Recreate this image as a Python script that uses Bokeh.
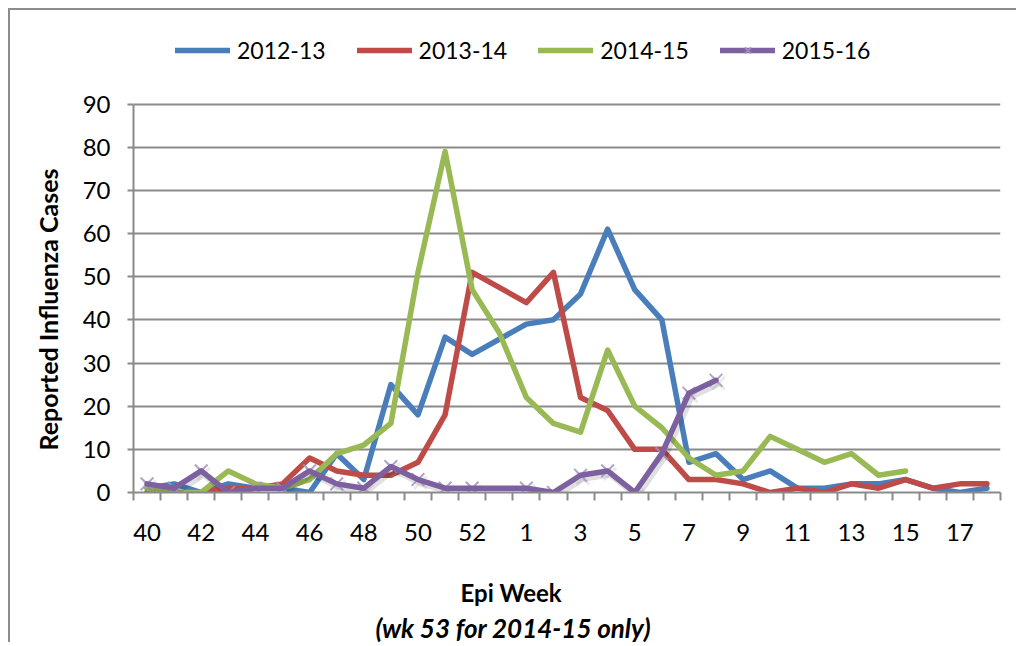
from bokeh.plotting import figure
from bokeh.models import (Range1d, FixedTicker, Legend, LegendItem, Title,
                          ColumnDataSource)
from bokeh.transform import dodge
from bokeh.embed import file_html
from bokeh.resources import INLINE

# ---------------- data ----------------
weeks = ["40", "41", "42", "43", "44", "45", "46", "47", "48", "49", "50",
         "51", "52", "53", "1", "2", "3", "4", "5", "6", "7", "8", "9", "10",
         "11", "12", "13", "14", "15", "16", "17", "18"]
y_ticks = [0, 10, 20, 30, 40, 50, 60, 70, 80, 90]

s2012_13 = [1, 2, 0, 2, 1, 1, 0, 9, 3, 25, 18, 36, 32, None, 39, 40, 46, 61,
            47, 40, 7, 9, 3, 5, 1, 1, 2, 2, 3, 1, 0, 1]
s2013_14 = [0, 0, 0, 1, 1, 2, 8, 5, 4, 4, 7, 18, 51, None, 44, 51, 22, 19,
            10, 10, 3, 3, 2, 0, 1, 0, 2, 1, 3, 1, 2, 2]
s2014_15 = [1, 0, 0, 5, 2, 1, 3, 9, 11, 16, 51, 79, 47, 37, 22, 16, 14, 33,
            20, 15, 8, 4, 5, 13, 10, 7, 9, 4, 5]
s2015_16 = [2, 1, 5, 0, 1, 1, 5, 2, 1, 6, 3, 1, 1, None, 1, 0, 4, 5, 0, 9,
            23, 26]

series_names = ["2012-13", "2013-14", "2014-15", "2015-16"]
series_colors = ["#4A7EBB", "#BE4B48", "#98B954", "#7D60A0"]

FONT = "Lato"
GRID = "#8A8A8A"

# layout: frame spans page y 20..492; value 90 sits at page y 103.5
FRAME_PX = 472.0
PX_PER_90 = 388.5
Y_TOP = 90 * FRAME_PX / PX_PER_90


def src(vals):
    xs = [i for i, v in enumerate(vals) if v is not None]
    ys = [v for v in vals if v is not None]
    return ColumnDataSource(data=dict(x=xs, y=ys))


p = figure(width=1008, height=634, output_backend="svg", toolbar_location=None,
           x_range=Range1d(-0.5, len(weeks) - 0.5), y_range=Range1d(0, Y_TOP),
           min_border_left=123, min_border_right=18, min_border_top=10,
           min_border_bottom=152)
p.outline_line_color = None
p.background_fill_color = "white"
p.border_fill_color = "white"
p.styles = {"margin-left": "8px", "margin-top": "8px",
            "border-left": "2px solid #8C8C8C", "border-top": "2px solid #8C8C8C"}

# y axis
p.yaxis.ticker = FixedTicker(ticks=y_ticks)
p.yaxis.bounds = (y_ticks[0], y_ticks[-1])
p.yaxis.axis_line_color = GRID
p.yaxis.axis_line_width = 2
p.yaxis.major_tick_line_color = GRID
p.yaxis.major_tick_line_width = 2
p.yaxis.major_tick_out = 6
p.yaxis.major_tick_in = 0
p.yaxis.minor_tick_line_color = None
p.yaxis.major_label_text_font = FONT
p.yaxis.major_label_text_font_size = "24px"
p.yaxis.major_label_text_color = "black"
p.yaxis.major_label_standoff = 17

# x axis
p.xaxis.ticker = FixedTicker(ticks=list(range(0, len(weeks), 2)),
                             minor_ticks=[i - 0.5 for i in range(len(weeks) + 1)])
p.xaxis.major_label_overrides = {i: weeks[i] for i in range(0, len(weeks), 2)}
p.xaxis.axis_line_color = GRID
p.xaxis.axis_line_width = 2
p.xaxis.major_tick_line_color = None
p.xaxis.major_tick_out = 0
p.xaxis.major_tick_in = 0
p.xaxis.minor_tick_line_color = GRID
p.xaxis.minor_tick_line_width = 2
p.xaxis.minor_tick_out = 8
p.xaxis.minor_tick_in = 0
p.xaxis.major_label_text_font = FONT
p.xaxis.major_label_text_font_size = "24px"
p.xaxis.major_label_text_color = "black"
p.xaxis.major_label_standoff = 23

p.xgrid.visible = False
p.ygrid.grid_line_color = GRID
p.ygrid.grid_line_width = 2

renderers = []
for vals, color in zip([s2012_13, s2013_14, s2014_15], series_colors[:3]):
    r = p.line("x", "y", source=src(vals), line_color=color, line_width=5.5,
               line_join="round", line_cap="round")
    renderers.append([r])

# 2015-16 with shadow and x markers
ps = src(s2015_16)
p.line(x=dodge("x", 0.09, range=p.x_range), y=dodge("y", -0.7, range=p.y_range),
       source=ps, line_color="black", line_alpha=0.12, line_width=7,
       line_join="round")
p.scatter(x=dodge("x", 0.09, range=p.x_range), y=dodge("y", -0.7, range=p.y_range),
          source=ps, marker="x", size=18, line_color="black", line_alpha=0.08,
          line_width=3)
m = p.scatter("x", "y", source=ps, marker="x", size=18, line_color="#A492C2",
              line_alpha=0.85, line_width=2)
r4 = p.line("x", "y", source=ps, line_color=series_colors[3], line_width=5.5,
            line_join="round", line_cap="round")
renderers.append([r4, m])

legend = Legend(items=[LegendItem(label=n, renderers=rs)
                       for n, rs in zip(series_names, renderers)],
                orientation="horizontal", location=(42, 428),
                glyph_width=55, glyph_height=22, label_standoff=7, spacing=31,
                label_text_font=FONT, label_text_font_size="23px",
                label_text_color="black", border_line_color=None,
                background_fill_alpha=0, padding=0, margin=0)
p.add_layout(legend, "center")

p.add_layout(Title(text="Reported Influenza Cases", align="left", offset=42,
                   standoff=33, text_font=FONT, text_font_style="bold",
                   text_font_size="25px", text_color="black"), "left")
p.add_layout(Title(text="Epi Week", align="left", offset=327, standoff=64,
                   text_font=FONT, text_font_style="bold",
                   text_font_size="24px", text_color="black"), "below")
p.add_layout(Title(text="(wk 53 for 2014-15 only)", align="left", offset=242,
                   standoff=-54, vertical_align="top", text_font=FONT,
                   text_font_style="bold italic", text_font_size="26px",
                   text_color="black"), "below")

open("out.html", "w").write(file_html(p, INLINE))
